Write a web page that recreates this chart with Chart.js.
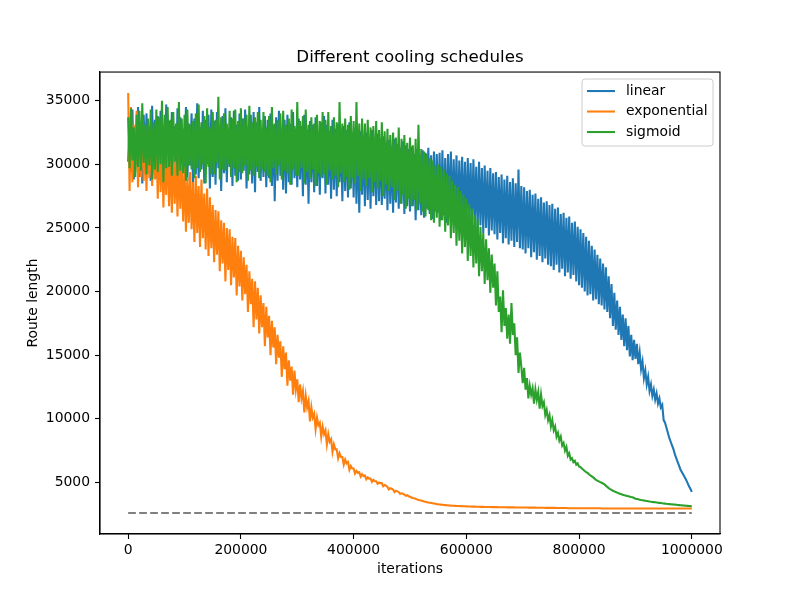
<!DOCTYPE html>
<html>
<head>
<meta charset="utf-8">
<script src="https://cdn.jsdelivr.net/npm/chart.js@4"></script>
<style>
  html, body { margin: 0; padding: 0; background: #fff; }
  canvas { display: block; }
</style>
</head>
<body>
<canvas id="chart" width="800" height="600"></canvas>
<script>
// iterations, in thousands (one row = 50k)
const iterK = [
  0, 2.5, 5, 7.5, 10, 12.5, 15, 17.5, 20, 22.5, 25, 27.5, 30, 32.5, 35, 37.5, 40, 42.5, 45, 47.5,
  50, 52.5, 55, 57.5, 60, 62.5, 65, 67.5, 70, 72.5, 75, 77.5, 80, 82.5, 85, 87.5, 90, 92.5, 95, 97.5,
  100, 102.5, 105, 107.5, 110, 112.5, 115, 117.5, 120, 122.5, 125, 127.5, 130, 132.5, 135, 137.5, 140, 142.5, 145, 147.5,
  150, 152.5, 155, 157.5, 160, 162.5, 165, 167.5, 170, 172.5, 175, 177.5, 180, 182.5, 185, 187.5, 190, 192.5, 195, 197.5,
  200, 202.5, 205, 207.5, 210, 212.5, 215, 217.5, 220, 222.5, 225, 227.5, 230, 232.5, 235, 237.5, 240, 242.5, 245, 247.5,
  250, 252.5, 255, 257.5, 260, 262.5, 265, 267.5, 270, 272.5, 275, 277.5, 280, 282.5, 285, 287.5, 290, 292.5, 295, 297.5,
  300, 302.5, 305, 307.5, 310, 312.5, 315, 317.5, 320, 322.5, 325, 327.5, 330, 332.5, 335, 337.5, 340, 342.5, 345, 347.5,
  350, 352.5, 355, 357.5, 360, 362.5, 365, 367.5, 370, 372.5, 375, 377.5, 380, 382.5, 385, 387.5, 390, 392.5, 395, 397.5,
  400, 402.5, 405, 407.5, 410, 412.5, 415, 417.5, 420, 422.5, 425, 427.5, 430, 432.5, 435, 437.5, 440, 442.5, 445, 447.5,
  450, 452.5, 455, 457.5, 460, 462.5, 465, 467.5, 470, 472.5, 475, 477.5, 480, 482.5, 485, 487.5, 490, 492.5, 495, 497.5,
  500, 502.5, 505, 507.5, 510, 512.5, 515, 517.5, 520, 522.5, 525, 527.5, 530, 532.5, 535, 537.5, 540, 542.5, 545, 547.5,
  550, 552.5, 555, 557.5, 560, 562.5, 565, 567.5, 570, 572.5, 575, 577.5, 580, 582.5, 585, 587.5, 590, 592.5, 595, 597.5,
  600, 602.5, 605, 607.5, 610, 612.5, 615, 617.5, 620, 622.5, 625, 627.5, 630, 632.5, 635, 637.5, 640, 642.5, 645, 647.5,
  650, 652.5, 655, 657.5, 660, 662.5, 665, 667.5, 670, 672.5, 675, 677.5, 680, 682.5, 685, 687.5, 690, 692.5, 695, 697.5,
  700, 702.5, 705, 707.5, 710, 712.5, 715, 717.5, 720, 722.5, 725, 727.5, 730, 732.5, 735, 737.5, 740, 742.5, 745, 747.5,
  750, 752.5, 755, 757.5, 760, 762.5, 765, 767.5, 770, 772.5, 775, 777.5, 780, 782.5, 785, 787.5, 790, 792.5, 795, 797.5,
  800, 802.5, 805, 807.5, 810, 812.5, 815, 817.5, 820, 822.5, 825, 827.5, 830, 832.5, 835, 837.5, 840, 842.5, 845, 847.5,
  850, 852.5, 855, 857.5, 860, 862.5, 865, 867.5, 870, 872.5, 875, 877.5, 880, 882.5, 885, 887.5, 890, 892.5, 895, 897.5,
  900, 902.5, 905, 907.5, 910, 912.5, 915, 917.5, 920, 922.5, 925, 927.5, 930, 932.5, 935, 937.5, 940, 942.5, 945, 947.5,
  950, 952.5, 955, 957.5, 960, 962.5, 965, 967.5, 970, 972.5, 975, 977.5, 980, 982.5, 985, 987.5, 990, 992.5, 995, 997.5,
  1000
];

const linear = [
  30200, 33600, 29400, 34300, 28800, 32400, 29900, 34500, 29000, 33300, 28500, 33900, 30100, 34000, 29300, 32700, 28700, 34600, 29600, 33500,
  28900, 33800, 29700, 34200, 28400, 32900, 29500, 34700, 29100, 33400, 28600, 34100, 30000, 33000, 28800, 34400, 29300, 33700, 28200, 32800,
  29400, 34500, 28700, 33200, 29900, 34000, 28300, 33600, 29200, 34800, 28900, 32900, 29600, 34200, 28500, 33500, 30000, 33900, 28100, 34300,
  29000, 33400, 28400, 34100, 29700, 33000, 27900, 33800, 29300, 34400, 28600, 32800, 29800, 33700, 28300, 34200, 29100, 33100, 28700, 34000,
  28800, 33600, 29500, 34300, 28100, 32900, 29200, 33900, 28500, 34100, 27800, 33300, 29400, 34500, 28700, 32700, 29000, 33800, 28200, 33500,
  28900, 34000, 28300, 33100, 27100, 33700, 28700, 34200, 29100, 32600, 28000, 33500, 27700, 33900, 28600, 33200, 28400, 34100, 28900, 32800,
  28200, 33600, 28800, 33000, 27500, 33900, 28400, 32700, 26900, 33400, 28600, 33100, 27800, 33700, 28300, 32500, 27600, 33300, 28900, 33800,
  27700, 33100, 28400, 32600, 27300, 33500, 28000, 32800, 27500, 33200, 28600, 32400, 27100, 33000, 27900, 32700, 27400, 33300, 28100, 32500,
  27400, 32800, 26900, 32300, 26200, 32600, 27600, 31900, 26700, 32500, 27200, 32100, 26500, 32700, 27500, 31800, 26800, 32400, 27100, 32000,
  26800, 32200, 27300, 31700, 26400, 31900, 26900, 31400, 26200, 32000, 27000, 31600, 26500, 31300, 26900, 31800, 26100, 31500, 26700, 31200,
  26300, 31400, 26700, 30800, 25600, 31200, 26400, 30600, 26000, 31100, 25800, 30900, 26500, 31300, 26100, 30700, 25700, 31000, 26300, 30800,
  26200, 30900, 25600, 31100, 26000, 30500, 25400, 30800, 25900, 31000, 25500, 30400, 25800, 30700, 25200, 30300, 25700, 30600, 25300, 30200,
  25300, 30500, 25700, 30100, 25000, 30400, 25500, 29800, 24800, 30200, 25200, 29700, 24600, 29900, 25000, 29500, 24400, 29700, 24800, 29300,
  24500, 29400, 24100, 29000, 24600, 29200, 23800, 28800, 24200, 29100, 23700, 28600, 24000, 28900, 23500, 28500, 23900, 29600, 23400, 28300,
  23300, 28200, 23000, 27900, 23400, 28000, 22700, 27600, 23100, 27700, 22500, 27300, 22800, 27400, 22300, 27000, 22600, 27100, 22100, 26800,
  22000, 26900, 21700, 26500, 22100, 26600, 21500, 26100, 21800, 26200, 21200, 25800, 21500, 25900, 21000, 25400, 21300, 25500, 20800, 25100,
  20500, 24900, 20300, 24600, 20000, 24300, 19700, 24000, 19800, 23600, 19300, 23300, 19400, 22900, 19000, 22600, 18900, 22200, 18600, 21900,
  18400, 21200, 17900, 20600, 17300, 19900, 17000, 19300, 16600, 18800, 16200, 18200, 15700, 17900, 15400, 17300, 14900, 16600, 14600, 16200,
  14700, 15900, 14300, 15200, 13900, 14500, 13200, 13800, 12700, 13300, 12200, 12700, 11800, 12300, 11500, 12000, 11200, 11600, 10900, 11100,
  9900, 9700, 9300, 8900, 8500, 8200, 7900, 7600, 7200, 6900, 6600, 6300, 6000, 5800, 5600, 5400, 5200, 4950, 4700, 4500,
  4260
];

const exponential = [
  35600, 27900, 34500, 28600, 33100, 29400, 34200, 28200, 32800, 29000, 33500, 28700, 32300, 27900, 33000, 28900, 32600, 28300, 31900, 28800,
  31900, 27300, 32400, 27800, 31500, 26600, 30900, 27600, 31600, 26700, 30700, 26200, 31200, 26900, 30400, 25900, 30800, 26500, 30100, 25500,
  29800, 24700, 29000, 25400, 29400, 24900, 28600, 23900, 29100, 24600, 28300, 23500, 28800, 24200, 27700, 23300, 28100, 22800, 27400, 23400,
  26800, 22300, 26400, 22900, 26300, 21600, 25600, 22200, 25400, 20800, 25000, 21700, 24900, 20500, 24300, 21100, 24200, 19700, 23600, 20400,
  23200, 19300, 22700, 19800, 22100, 18400, 21600, 19000, 21000, 17200, 20800, 17800, 20300, 16700, 19700, 17200, 19100, 15700, 18800, 16400,
  18100, 15000, 17700, 15600, 17200, 14300, 16600, 14800, 16100, 13300, 15700, 13900, 15200, 12600, 14600, 13000, 14100, 11900, 13800, 12300,
  13100, 11300, 12700, 11600, 12200, 10500, 11800, 10900, 11400, 9800, 10900, 10100, 10400, 9200, 10100, 9500, 9700, 8600, 9400, 8800,
  9100, 8000, 8800, 8200, 8400, 7400, 8000, 7600, 7600, 6900, 7300, 7000, 7000, 6400, 6800, 6500, 6600, 6000, 6300, 6100,
  6100, 5700, 5900, 5750, 5800, 5450, 5650, 5500, 5550, 5250, 5400, 5300, 5300, 5050, 5200, 5100, 5100, 4900, 5000, 4950,
  4950, 4700, 4800, 4750, 4650, 4450, 4550, 4500, 4450, 4250, 4350, 4300, 4250, 4100, 4150, 4120, 4050, 3950, 4000, 3920,
  3880, 3820, 3780, 3750, 3720, 3670, 3620, 3600, 3580, 3540, 3500, 3480, 3450, 3420, 3400, 3380, 3360, 3340, 3320, 3300,
  3290, 3275, 3260, 3245, 3230, 3220, 3210, 3200, 3190, 3180, 3170, 3165, 3160, 3155, 3150, 3145, 3140, 3135, 3130, 3125,
  3120, 3115, 3110, 3105, 3100, 3100, 3100, 3095, 3090, 3085, 3080, 3080, 3080, 3075, 3070, 3070, 3070, 3065, 3060, 3060,
  3060, 3060, 3060, 3055, 3050, 3050, 3050, 3050, 3050, 3045, 3040, 3040, 3040, 3040, 3040, 3035, 3030, 3030, 3030, 3030,
  3030, 3030, 3030, 3030, 3020, 3020, 3020, 3020, 3020, 3020, 3010, 3010, 3010, 3010, 3010, 3010, 3000, 3000, 3000, 3000,
  3000, 3000, 3000, 3000, 2990, 2990, 2990, 2990, 2990, 2990, 2990, 2990, 2980, 2980, 2980, 2980, 2980, 2980, 2980, 2980,
  2980, 2980, 2980, 2980, 2970, 2970, 2970, 2970, 2970, 2970, 2970, 2970, 2970, 2970, 2970, 2970, 2960, 2960, 2960, 2960,
  2960, 2960, 2960, 2960, 2960, 2960, 2960, 2960, 2960, 2960, 2960, 2960, 2960, 2960, 2960, 2960, 2960, 2960, 2960, 2960,
  2960, 2960, 2960, 2960, 2950, 2950, 2950, 2950, 2950, 2950, 2950, 2950, 2950, 2950, 2950, 2950, 2950, 2950, 2950, 2950,
  2950, 2950, 2950, 2950, 2950, 2950, 2950, 2950, 2950, 2950, 2950, 2950, 2950, 2950, 2950, 2950, 2950, 2950, 2950, 2950,
  2950
];

const sigmoid = [
  33700, 29700, 34400, 30300, 32900, 29000, 33900, 29800, 34200, 29500, 34800, 30100, 33100, 29200, 33600, 29900, 34300, 28800, 33300, 29600,
  34300, 29400, 33700, 30000, 35000, 28600, 33900, 29700, 34500, 29800, 33500, 29100, 34100, 30200, 33200, 29100, 34900, 29500, 33600, 29300,
  33900, 28700, 34300, 29900, 33100, 29600, 33400, 28900, 34000, 29700, 34700, 29400, 33300, 30000, 33800, 28500, 34400, 29800, 32900, 29200,
  34100, 29200, 33500, 30100, 35300, 28800, 33700, 29600, 34000, 29500, 33200, 30000, 34200, 29000, 33600, 29700, 34300, 28600, 33400, 29400,
  34400, 29300, 33600, 29900, 33900, 28700, 34600, 29500, 33300, 29100, 33700, 29800, 34100, 28900, 33500, 29600, 34100, 29400, 32900, 29100,
  33800, 28600, 34500, 29700, 33200, 29200, 33500, 29900, 34000, 28800, 34200, 29500, 33100, 29300, 33600, 28400, 34300, 29600, 33000, 29100,
  34900, 29100, 33400, 29700, 33800, 28500, 34300, 29400, 33100, 28900, 33700, 29600, 33200, 28300, 33900, 29300, 33400, 29000, 34100, 29200,
  33500, 28400, 34100, 29500, 33000, 28800, 33700, 29100, 33300, 28200, 34900, 29300, 33200, 28600, 33600, 29000, 33100, 28000, 33800, 28900,
  33400, 28500, 34900, 29100, 33200, 27900, 33600, 28800, 33200, 28300, 33500, 28900, 32900, 27800, 33000, 28600, 33400, 28100, 32700, 28700,
  33300, 27500, 32600, 28400, 32800, 27900, 32300, 28200, 32500, 27200, 32100, 27900, 32900, 26900, 32000, 27600, 32300, 26500, 31700, 27300,
  32100, 26700, 31500, 27200, 32000, 26400, 33100, 26900, 31200, 26300, 31000, 25900, 30800, 26400, 30500, 25600, 30300, 25400, 29900, 25800,
  30000, 25100, 29800, 25600, 29600, 24700, 29300, 25200, 29100, 24200, 28700, 24600, 28400, 23600, 28200, 24000, 27900, 23000, 27600, 23500,
  27300, 22400, 26900, 22800, 26500, 21900, 26000, 22200, 25700, 21200, 25100, 21600, 24600, 20600, 24100, 20900, 23400, 19900, 22900, 20300,
  22200, 18900, 21600, 18400, 19600, 16800, 20100, 17300, 18700, 16300, 18200, 15900, 19100, 16600, 17500, 15000, 16400, 13600, 15200, 14100,
  12800, 14000, 12300, 13200, 11600, 12600, 11900, 12400, 11200, 12300, 11500, 12100, 10800, 11900, 11000, 11300, 10300, 10700, 9900, 10300,
  9400, 9900, 9100, 9400, 8600, 8900, 8300, 8600, 7900, 8100, 7500, 7800, 7100, 7300, 6800, 6900, 6600, 6700, 6400, 6500,
  6250, 6200, 6100, 6000, 5900, 5820, 5750, 5650, 5550, 5480, 5400, 5300, 5200, 5150, 5080, 5030, 4980, 4920, 4850, 4750,
  4650, 4560, 4480, 4420, 4350, 4300, 4250, 4200, 4150, 4110, 4070, 4030, 4000, 3970, 3940, 3910, 3880, 3850, 3830, 3780,
  3720, 3700, 3680, 3650, 3620, 3600, 3580, 3560, 3540, 3520, 3500, 3485, 3470, 3455, 3440, 3425, 3410, 3395, 3380, 3365,
  3350, 3335, 3320, 3310, 3300, 3290, 3280, 3270, 3260, 3245, 3230, 3220, 3210, 3200, 3190, 3180, 3170, 3160, 3150, 3142,
  3135
];

// optimum (dashed reference)
const optX = [0, 1000000];
const optY = [2600, 2600];

const xTicks = [0, 200000, 400000, 600000, 800000, 1000000];
const yTicks = [5000, 10000, 15000, 20000, 25000, 30000, 35000];

const FONT = 'DejaVu Sans';
const TXT = 13.9;

function puntos(vals) {
  return iterK.map((k, i) => ({ x: k * 1000, y: vals[i] }));
}

function serie(label, vals, color, order) {
  return {
    label: label,
    data: puntos(vals),
    borderColor: color,
    borderWidth: 2.08,
    pointRadius: 0,
    tension: 0,
    fill: false,
    order: order
  };
}

// frame + legend box like matplotlib
const marco = {
  id: 'marco',
  afterDraw(chart) {
    const { ctx, chartArea: a } = chart;
    ctx.save();
    ctx.strokeStyle = '#000';
    ctx.lineWidth = 1.1;
    ctx.strokeRect(a.left, a.top, a.right - a.left, a.bottom - a.top);

    const items = chart.data.datasets.filter(d => d.label);
    const w = 131, h = 67;
    const x0 = a.right - 7 - w, y0 = a.top + 7;
    const r = 3;
    ctx.beginPath();
    ctx.moveTo(x0 + r, y0);
    ctx.arcTo(x0 + w, y0, x0 + w, y0 + h, r);
    ctx.arcTo(x0 + w, y0 + h, x0, y0 + h, r);
    ctx.arcTo(x0, y0 + h, x0, y0, r);
    ctx.arcTo(x0, y0, x0 + w, y0, r);
    ctx.closePath();
    ctx.fillStyle = 'rgba(255,255,255,0.8)';
    ctx.fill();
    ctx.strokeStyle = '#cccccc';
    ctx.lineWidth = 1;
    ctx.stroke();

    ctx.font = TXT + 'px "' + FONT + '"';
    ctx.textBaseline = 'middle';
    ctx.textAlign = 'left';
    items.forEach((d, i) => {
      const y = y0 + 12 + i * 20.5;
      ctx.strokeStyle = d.borderColor;
      ctx.lineWidth = 2.08;
      ctx.beginPath();
      ctx.moveTo(x0 + 5, y);
      ctx.lineTo(x0 + 33, y);
      ctx.stroke();
      ctx.fillStyle = '#000';
      ctx.fillText(d.label, x0 + 44, y);
    });
    ctx.restore();
  }
};

Chart.defaults.font.family = FONT;
Chart.defaults.color = '#000';

const ctx = document.getElementById('chart').getContext('2d');
const chart = new Chart(ctx, {
  type: 'line',
  data: {
    datasets: [
      serie('linear', linear, '#1f77b4', 3),
      serie('exponential', exponential, '#ff7f0e', 2),
      serie('sigmoid', sigmoid, '#2ca02c', 1),
      {
        data: optX.map((x, i) => ({ x: x, y: optY[i] })),
        borderColor: '#808080',
        borderWidth: 2.08,
        borderDash: [7.7, 3.3],
        pointRadius: 0,
        fill: false,
        order: 4
      }
    ]
  },
  options: {
    responsive: false,
    animation: false,
    devicePixelRatio: 1,
    layout: { padding: { left: 0, right: 80, top: 0, bottom: 0 } },
    plugins: {
      legend: { display: false },
      tooltip: { enabled: false },
      title: {
        display: true,
        text: 'Different cooling schedules',
        color: '#000',
        fullSize: false,
        font: { size: 16.7, weight: 'normal' },
        padding: { top: 48, bottom: 4 }
      }
    },
    scales: {
      x: {
        type: 'linear',
        min: -50000,
        max: 1050000,
        afterBuildTicks: s => { s.ticks = xTicks.map(v => ({ value: v })); },
        afterFit: s => { s.height = 66; },
        ticks: {
          color: '#000',
          font: { size: TXT },
          padding: 3,
          maxRotation: 0,
          autoSkip: false,
          callback: v => String(v)
        },
        grid: { drawOnChartArea: false, tickLength: 5, tickColor: '#000', tickWidth: 1.1 },
        border: { color: '#000', width: 1.1 },
        title: {
          display: true,
          text: 'iterations',
          color: '#000',
          font: { size: TXT },
          padding: { top: 0, bottom: 22.7 }
        }
      },
      y: {
        type: 'linear',
        min: 950,
        max: 37250,
        afterBuildTicks: s => { s.ticks = yTicks.map(v => ({ value: v })); },
        afterFit: s => { s.width = 100; },
        ticks: {
          color: '#000',
          font: { size: TXT },
          padding: 5,
          autoSkip: false,
          callback: v => String(v)
        },
        grid: { drawOnChartArea: false, tickLength: 5, tickColor: '#000', tickWidth: 1.1 },
        border: { color: '#000', width: 1.1 },
        title: {
          display: true,
          text: 'Route length',
          color: '#000',
          font: { size: TXT },
          padding: { top: 24.7, bottom: 0 }
        }
      }
    }
  },
  plugins: [marco]
});
</script>
</body>
</html>
